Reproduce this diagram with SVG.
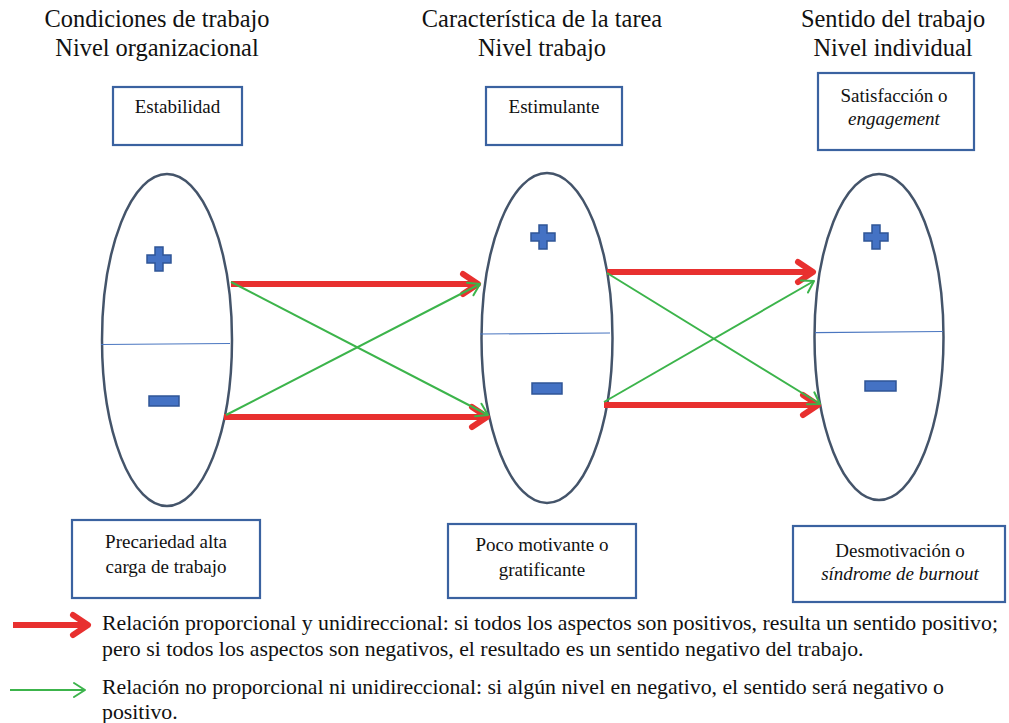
<svg xmlns="http://www.w3.org/2000/svg" width="1009" height="723" viewBox="0 0 1009 723">
<style>
text{font-family:"Liberation Serif","Times New Roman",serif;fill:#111;}
.hd{font-size:24.4px;text-anchor:middle;}
.bx{font-size:19px;text-anchor:middle;}
.lg{font-size:21.8px;}
.box{fill:#fff;stroke:#3a62a0;stroke-width:2.2;}
.ell{fill:#fff;stroke:#44546a;stroke-width:2.5;}
.div{stroke:#4a76c0;stroke-width:1.2;}
.sym{fill:#4472c4;stroke:#2f5597;stroke-width:1.5;}
.red{stroke:#e8302f;stroke-width:6;fill:none;marker-end:url(#rh);}
.grn{stroke:#3cb44b;stroke-width:2;fill:none;marker-end:url(#gh);}
</style>
<defs>
<marker id="rh" markerUnits="userSpaceOnUse" markerWidth="40" markerHeight="40" viewBox="-20 -20 40 40" refX="0" refY="0" orient="auto">
<path d="M-15,-10 L0,0 L-15,10" fill="none" stroke="#e8302f" stroke-width="6" stroke-linecap="round" stroke-linejoin="round"/>
</marker>
<marker id="gh" markerUnits="userSpaceOnUse" markerWidth="30" markerHeight="30" viewBox="-15 -15 30 30" refX="0" refY="0" orient="auto">
<path d="M-11,-7 L0,0 L-11,7" fill="none" stroke="#3cb44b" stroke-width="2" stroke-linecap="round" stroke-linejoin="round"/>
</marker>
</defs>
<rect width="1009" height="723" fill="#fff"/>

<g id="headers">
<text class="hd" x="157" y="27">Condiciones de trabajo</text>
<text class="hd" x="157" y="56">Nivel organizacional</text>
<text class="hd" x="542" y="27">Característica de la tarea</text>
<text class="hd" x="542" y="56">Nivel trabajo</text>
<text class="hd" x="893" y="27">Sentido del trabajo</text>
<text class="hd" x="893" y="56">Nivel individual</text>
</g>

<g id="box-estabilidad">
<rect class="box" x="113" y="87" width="129" height="58"/>
<text class="bx" x="177.5" y="113">Estabilidad</text>
</g>
<g id="box-estimulante">
<rect class="box" x="486" y="87" width="136" height="58"/>
<text class="bx" x="554" y="113">Estimulante</text>
</g>
<g id="box-satisfaccion">
<rect class="box" x="818" y="73" width="156" height="77"/>
<text class="bx" x="894" y="102">Satisfacción o</text>
<text class="bx" x="894" y="125" font-style="italic">engagement</text>
</g>

<g id="ellipse-organizacional">
<ellipse class="ell" cx="167" cy="340" rx="65" ry="166"/>
<line class="div" x1="101" y1="344.5" x2="230" y2="343.5"/>
<path class="sym" d="M155,247 h8 v8 h8 v8 h-8 v8 h-8 v-8 h-8 v-8 h8 z"/>
<rect class="sym" x="149" y="396" width="30" height="10"/>
</g>
<g id="ellipse-trabajo">
<ellipse class="ell" cx="547" cy="338" rx="65.5" ry="165"/>
<line class="div" x1="480" y1="334" x2="610" y2="333"/>
<path class="sym" d="M539,225 h8 v8 h8 v8 h-8 v8 h-8 v-8 h-8 v-8 h8 z"/>
<rect class="sym" x="532" y="383" width="30" height="11"/>
</g>
<g id="ellipse-individual">
<ellipse class="ell" cx="879" cy="337" rx="64.5" ry="163"/>
<line class="div" x1="815" y1="332.7" x2="943" y2="331.5"/>
<path class="sym" d="M872,225 h8 v8 h8 v8 h-8 v8 h-8 v-8 h-8 v-8 h8 z"/>
<rect class="sym" x="865" y="381" width="31" height="10"/>
</g>

<g id="box-precariedad">
<rect class="box" x="72" y="520" width="188" height="78"/>
<text class="bx" x="166" y="548">Precariedad alta</text>
<text class="bx" x="166" y="573">carga de trabajo</text>
</g>
<g id="box-poco">
<rect class="box" x="448" y="524" width="188" height="74"/>
<text class="bx" x="542" y="551">Poco motivante o</text>
<text class="bx" x="542" y="576">gratificante</text>
</g>
<g id="box-desmotivacion">
<rect class="box" x="793" y="526" width="212" height="76"/>
<text class="bx" x="900" y="557">Desmotivación o</text>
<text class="bx" x="900" y="580" font-style="italic">síndrome de burnout</text>
</g>

<g id="connectors">
<line class="red" x1="231" y1="284" x2="478" y2="284"/>
<line class="red" x1="224" y1="417" x2="487" y2="417"/>
<line class="grn" x1="231" y1="282" x2="488" y2="415"/>
<line class="grn" x1="226" y1="415" x2="480" y2="284"/>
<line class="red" x1="607" y1="272" x2="813" y2="272"/>
<line class="red" x1="604" y1="405" x2="818" y2="405"/>
<line class="grn" x1="607" y1="273" x2="820" y2="404"/>
<line class="grn" x1="604" y1="402" x2="814" y2="281"/>
</g>

<g id="legend">
<line class="red" x1="13" y1="625" x2="88" y2="625"/>
<line class="grn" x1="10" y1="690" x2="85" y2="690"/>
<text class="lg" x="102" y="630">Relación proporcional y unidireccional: si todos los aspectos son positivos, resulta un sentido positivo;</text>
<text class="lg" x="102" y="656">pero si todos los aspectos son negativos, el resultado es un sentido negativo del trabajo.</text>
<text class="lg" x="102" y="694">Relación no proporcional ni unidireccional: si algún nivel en negativo, el sentido será negativo o</text>
<text class="lg" x="102" y="719">positivo.</text>
</g>
</svg>
